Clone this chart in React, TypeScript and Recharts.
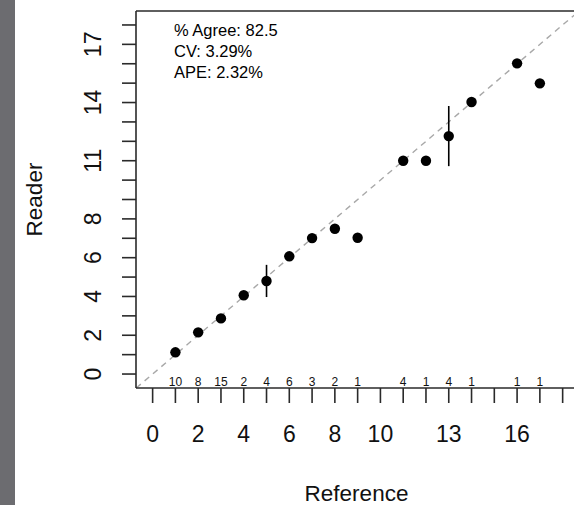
import React from 'react';
import {
  ScatterChart,
  Scatter,
  XAxis,
  YAxis,
  ErrorBar,
  ReferenceLine,
  Label,
  LabelList,
  Customized,
} from 'recharts';

// ---- data ----
const refAges = [1, 2, 3, 4, 5, 6, 7, 8, 9, 11, 12, 13, 14, 16, 17];
const readerMeans = [1.12, 2.15, 2.87, 4.06, 4.8, 6.07, 7.01, 7.49, 7.03, 11.0, 11.0, 12.27, 14.03, 16.02, 14.99];
const readerErr = [0, 0, 0, 0, 0.83, 0, 0, 0, 0, 0, 0, 1.55, 0, 0, 0];
const sampleCounts = [10, 8, 15, 2, 4, 6, 3, 2, 1, 4, 1, 4, 1, 1, 1];

const xTicks = [0, 1, 2, 3, 4, 5, 6, 7, 8, 9, 10, 11, 12, 13, 14, 15, 16, 17, 18];
const xTickLabels = [0, 2, 4, 6, 8, 10, 13, 16];
const yTicks = [0, 1, 2, 3, 4, 5, 6, 7, 8, 9, 10, 11, 12, 13, 14, 15, 16, 17, 18];
const yTickLabels = [0, 2, 4, 6, 8, 11, 14, 17];
const xDomain = [-0.73, 18.63];
const yDomain = [-0.72, 18.72];
const statLines = ['% Agree: 82.5', 'CV: 3.29%', 'APE: 2.32%'];

const points = refAges.map((x, i) => ({ x, y: readerMeans[i], err: readerErr[i], n: sampleCounts[i] }));

const FONT = '"Liberation Sans", Arial, Helvetica, sans-serif';
const AXIS = '#2a2a2a';
const CHART_H = 505;
const X_AXIS_H = 117;
const PLOT_BOTTOM = CHART_H - X_AXIS_H;

const YTick = (props: any) => {
  const { x, y, payload } = props;
  const label = yTickLabels.includes(payload.value) ? String(payload.value) : '';
  return (
    <text
      x={x}
      y={y}
      transform={`rotate(-90 ${x} ${y})`}
      textAnchor="middle"
      fontSize={23}
      fill="#111"
      fontFamily={FONT}
    >
      {label}
    </text>
  );
};

const Dot = (props: any) => <circle cx={props.cx} cy={props.cy} r={5.2} fill="#000" />;

const CountLabel = (p: any) => {
  const vb = p.viewBox || {};
  const bx = vb.x != null ? vb.x + (vb.width || 0) / 2 : p.x + (p.width || 0) / 2;
  return (
    <text x={bx} y={PLOT_BOTTOM - 2.5} textAnchor="middle" fontSize={12} fill="#111" fontFamily={FONT}>
      {p.value}
    </text>
  );
};

const Stats = () => (
  <g fontFamily={FONT} fontSize={16.5} fill="#000">
    {statLines.map((s, i) => (
      <text key={i} x={174} y={36 + i * 21}>
        {s}
      </text>
    ))}
  </g>
);

export default function App() {
  const lo = Math.max(xDomain[0], yDomain[0]);
  const hi = Math.min(xDomain[1], yDomain[1]);
  return (
    <div style={{ position: 'absolute', left: 0, top: 0, width: 574, height: 505, overflow: 'hidden', background: '#fff' }}>
      <div style={{ position: 'absolute', left: 0, top: 0, width: 15, height: 505, background: '#6c6c70' }} />
      <ScatterChart width={580} height={CHART_H} margin={{ top: 11, right: 3, bottom: 0, left: 0 }}>
        <XAxis
          xAxisId="main"
          dataKey="x"
          type="number"
          domain={xDomain}
          allowDataOverflow
          ticks={xTicks}
          interval={0}
          tickFormatter={(v: number) => (xTickLabels.includes(v) ? String(v) : '')}
          height={X_AXIS_H}
          tickSize={15}
          tickMargin={23}
          axisLine={{ stroke: AXIS, strokeWidth: 1.6 }}
          tickLine={{ stroke: AXIS, strokeWidth: 1.6 }}
          tick={{ fill: '#111', fontSize: 23, fontFamily: FONT }}
        >
          <Label
            value="Reference"
            position="insideBottom"
            offset={4}
            style={{ fontSize: 22.5, fontFamily: FONT, fill: '#111' }}
          />
        </XAxis>
        <YAxis
          yAxisId="main"
          dataKey="y"
          type="number"
          domain={yDomain}
          allowDataOverflow
          ticks={yTicks}
          interval={0}
          width={136}
          tickSize={14}
          tickMargin={21}
          axisLine={{ stroke: AXIS, strokeWidth: 1.6 }}
          tickLine={{ stroke: AXIS, strokeWidth: 1.6 }}
          tick={<YTick />}
        >
          <Label
            content={(p: any) => {
              const vb = p.viewBox || { x: 0, y: 11, width: 136, height: 377 };
              const cx = 42;
              const cy = vb.y + vb.height / 2;
              return (
                <text
                  x={cx}
                  y={cy}
                  transform={`rotate(-90 ${cx} ${cy})`}
                  textAnchor="middle"
                  fontSize={22.5}
                  fill="#111"
                  fontFamily={FONT}
                >
                  Reader
                </text>
              );
            }}
          />
        </YAxis>
        <ReferenceLine
          xAxisId="main"
          yAxisId="main"
          segment={[
            { x: lo, y: lo },
            { x: hi, y: hi },
          ]}
          stroke="#a8a8a8"
          strokeWidth={1.4}
          strokeDasharray="6 5"
        />
        <ReferenceLine xAxisId="main" yAxisId="main" y={yDomain[1]} stroke={AXIS} strokeWidth={1.6} />
        <ReferenceLine xAxisId="main" yAxisId="main" x={xDomain[1]} stroke={AXIS} strokeWidth={1.6} />
        <Scatter
          xAxisId="main"
          yAxisId="main"
          data={points}
          shape={<Dot />}
          isAnimationActive={false}
        >
          <ErrorBar dataKey="err" direction="y" width={0} stroke="#000" strokeWidth={1.6} />
          <LabelList dataKey="n" content={<CountLabel />} />
        </Scatter>
        <Customized component={<Stats />} />
      </ScatterChart>
    </div>
  );
}
